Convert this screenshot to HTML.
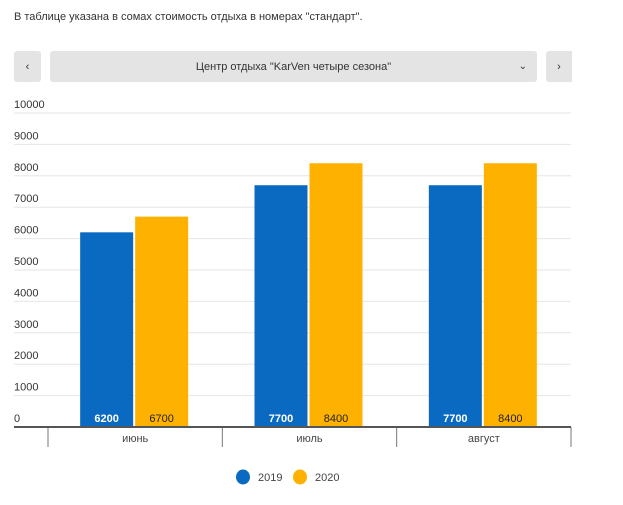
<!DOCTYPE html>
<html><head><meta charset="utf-8"><style>
body{margin:0;width:623px;height:505px;background:#fff;font-family:"Liberation Sans",sans-serif;overflow:hidden;position:relative}
.t{position:absolute;left:14px;top:11px;font-size:11px;color:#333}
.btn{position:absolute;top:51px;height:31px;background:#e4e4e4;border-radius:3px;font-size:11px;color:#333;display:flex;align-items:center;justify-content:center}
</style></head><body>
<div class="t">В таблице указана в сомах стоимость отдыха в номерах "стандарт".</div>
<div class="btn" style="left:14px;width:27px">‹</div>
<div class="btn" style="left:50px;width:487px">Центр отдыха "KarVen четыре сезона"<span style="position:absolute;right:10px;font-size:10px">⌄</span></div>
<div class="btn" style="left:546px;width:26px;border-radius:3px 0 0 3px">›</div>
<svg id="c" width="623" height="505" style="position:absolute;left:0;top:0"></svg>
<script>
const categories=["июнь","июль","август"];
const s2019=[6200,7700,7700];
const s2020=[6700,8400,8400];
const ticks=[0,1000,2000,3000,4000,5000,6000,7000,8000,9000,10000];
const series=[{name:"2019",vals:s2019,color:"#0a69c0",tc:"#fff",fw:"bold"},{name:"2020",vals:s2020,color:"#ffb100",tc:"#222",fw:"normal"}];
const svg=document.getElementById('c');const NS="http://www.w3.org/2000/svg";
function el(t,a,p){const e=document.createElementNS(NS,t);for(const k in a)e.setAttribute(k,a[k]);(p||svg).appendChild(e);return e;}
const y0=427,yTop=113,xL=14,xR=571,band0=48,bandW=(571-48)/categories.length;
const y=v=>y0-(v/10000)*(y0-yTop);
ticks.forEach(t=>{
 if(t>0){const l=el('line',{x1:xL,x2:xR,y1:y(t),y2:y(t),stroke:'#e6e6e6'});
 
 }
 const tx=el('text',{x:xL,y:y(t)-5,'font-size':11,fill:'#333'});tx.textContent=t;
 
 
});
const bw=53,gap=2;
categories.forEach((c,i)=>{
 const cx=band0+bandW*(i+0.5)-1;
 series.forEach((s,j)=>{
  const x=cx-bw-gap/2+j*(bw+gap);
  const r=el('rect',{x:x,y:y(s.vals[i]),width:bw,height:y0-y(s.vals[i]),fill:s.color});
  
  
  const tx=el('text',{x:x+bw/2,y:y0-5,'font-size':11,fill:s.tc,'font-weight':s.fw,'text-anchor':'middle'});tx.textContent=s.vals[i];
  
  
 });
 const lt=el('text',{x:cx+1,y:y0+15,'font-size':11,fill:'#444','text-anchor':'middle'});lt.textContent=c;
 
 
});
for(let i=0;i<=categories.length;i++){const x=band0+bandW*i;el('line',{x1:x,x2:x,y1:y0,y2:447,stroke:'#777'});}
el('line',{x1:xL,x2:xR,y1:y0,y2:y0,stroke:'#555','stroke-width':2});
series.forEach((s,j)=>{
 const lx=243+j*57;
 const c=el('ellipse',{cx:lx,cy:477,rx:7,ry:7.5,fill:s.color});
 
 
 const t=el('text',{x:lx+15,y:481,'font-size':11,fill:'#444'});t.textContent=s.name;
 
 
});
</script>
</body></html>
